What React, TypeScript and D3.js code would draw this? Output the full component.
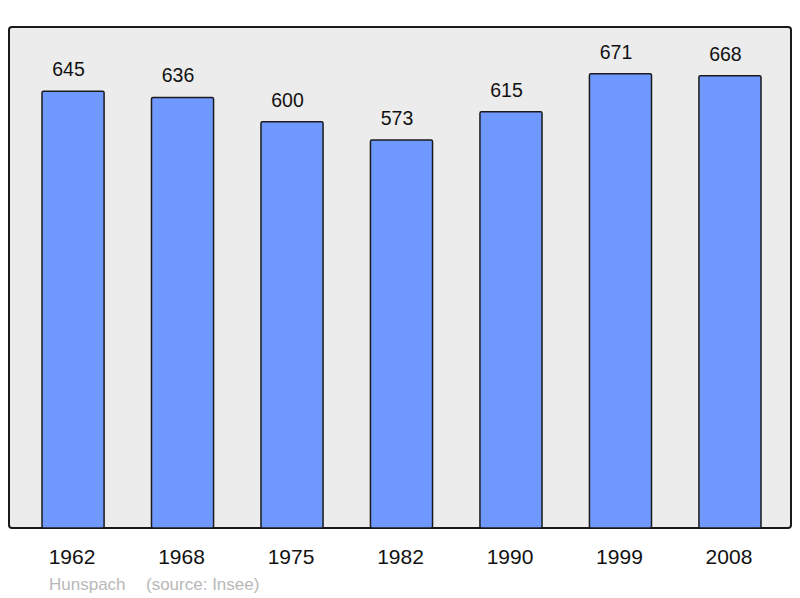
import React from "react";
import * as d3 from "d3";

const years = ["1962", "1968", "1975", "1982", "1990", "1999", "2008"];
const population = [645, 636, 600, 573, 615, 671, 668];
const townName = "Hunspach";
const sourceNote = "(source: Insee)";

const W = 800;
const H = 598;
const panel = { left: 9, top: 27, right: 791, bottom: 528 };

const App = () => {
  const x = d3
    .scaleBand<string>()
    .domain(years)
    .range([18.3, 784.7])
    .paddingInner(0.433)
    .paddingOuter(0.2165);

  const y = d3.scaleLinear().domain([0, 740]).range([panel.bottom, panel.top]);

  const font = "'Liberation Sans', Arial, sans-serif";

  return (
    <svg
      width={W}
      height={H}
      style={{ position: "absolute", left: 0, top: 0, display: "block" }}
      fontFamily={font}
    >
      <rect width={W} height={H} fill="#ffffff" />
      <rect
        x={panel.left}
        y={panel.top}
        width={panel.right - panel.left}
        height={panel.bottom - panel.top}
        rx={3}
        fill="#ececec"
        stroke="#1a1a1a"
        strokeWidth={2}
      />
      {years.map((yr, i) => {
        const v = population[i];
        const bx = x(yr)!;
        const bw = x.bandwidth();
        return (
          <g key={yr}>
            <rect
              x={bx}
              y={y(v)}
              width={bw}
              height={panel.bottom - y(v)}
              rx={1.5}
              fill="#7099ff"
              stroke="#1a1a1a"
              strokeWidth={1.5}
            />
            <text
              x={bx + bw / 2 - 4.5}
              y={y(v) - 15}
              textAnchor="middle"
              fontSize={19.5}
              fill="#111"
            >
              {v}
            </text>
            <text
              x={bx + bw / 2 - 1}
              y={564}
              textAnchor="middle"
              fontSize={21}
              fill="#111"
            >
              {yr}
            </text>
          </g>
        );
      })}
      <text x={49} y={590} fontSize={17} fill="#b8b8b8">
        {townName}
      </text>
      <text x={146} y={590} fontSize={17} fill="#b8b8b8">
        {sourceNote}
      </text>
    </svg>
  );
};

export default App;
